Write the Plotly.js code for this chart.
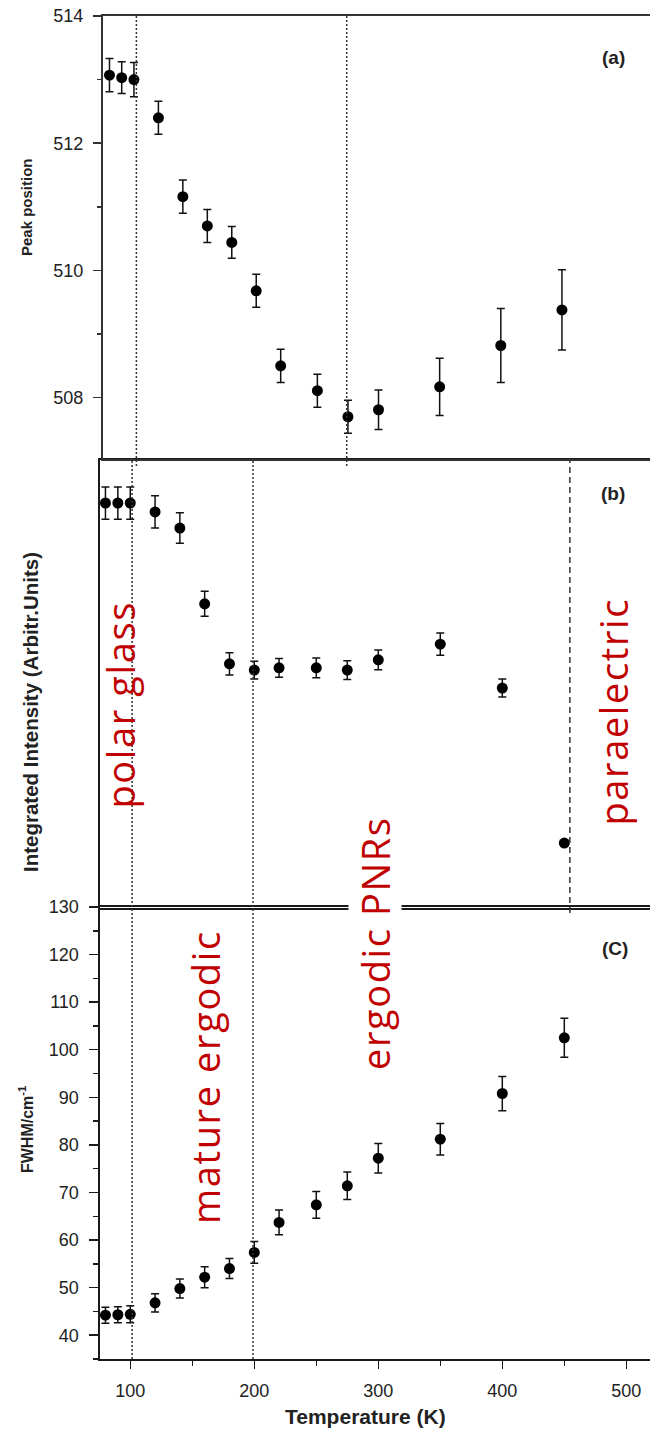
<!DOCTYPE html>
<html>
<head>
<meta charset="utf-8">
<script src="https://cdn.plot.ly/plotly-3.0.1.min.js"></script>
<style>
html,body{margin:0;padding:0;background:#fff;}
#chart{width:650px;height:1432px;}
</style>
</head>
<body>
<div id="chart"></div>
<script>
// ---- data ----
const temperature = [80, 90, 100, 120, 140, 160, 180, 200, 220, 250, 275, 300, 350, 400, 450];

const peakPosition    = [513.07, 513.03, 513.00, 512.40, 511.16, 510.70, 510.44, 509.68, 508.50, 508.11, 507.70, 507.81, 508.17, 508.82, 509.38];
const peakPositionErr = [0.26, 0.25, 0.27, 0.26, 0.26, 0.26, 0.25, 0.26, 0.26, 0.26, 0.26, 0.31, 0.45, 0.58, 0.63];

const intensity    = [90.4, 90.4, 90.4, 88.4, 84.8, 67.9, 54.5, 53.1, 53.6, 53.6, 53.1, 55.4, 58.9, 49.1, 14.5];
const intensityErr = [3.6, 3.6, 3.6, 3.6, 3.4, 2.8, 2.5, 2.0, 2.1, 2.2, 2.1, 2.2, 2.5, 2.0, 0];

const fwhm    = [44.2, 44.3, 44.4, 46.8, 49.8, 52.2, 54.0, 57.4, 63.7, 67.4, 71.4, 77.2, 81.2, 90.8, 102.5];
const fwhmErr = [1.7, 1.7, 1.8, 1.9, 2.0, 2.2, 2.1, 2.3, 2.6, 2.8, 2.9, 3.1, 3.3, 3.6, 4.1];

const peakTicks = [508, 510, 512, 514];
const fwhmTicks = [40, 50, 60, 70, 80, 90, 100, 110, 120, 130];
const tempTicks = [100, 200, 300, 400, 500];

// phase-boundary temperatures
const linesPanelA  = [102, 274];
const linesPanelBC = [101.5, 199];
const paraelectricLine = 454.5;

const phaseLabels = ["polar glass", "mature ergodic", "ergodic PNRs", "paraelectric"];
const panelLabels = ["(a)", "(b)", "(C)"];

// ---- layout helpers (pixel -> paper) ----
const W = 650, H = 1432;
const px = v => v / W;
const py = v => 1 - v / H;

const tickFont = {family: "Liberation Sans, Arial, sans-serif", size: 18, color: "#222"};
const lineCol = "#1a1a1a";

function scatter(y, err, xa, ya) {
  return {
    x: temperature, y: y, xaxis: xa, yaxis: ya,
    type: "scatter", mode: "markers", cliponaxis: false,
    marker: {size: 11, color: "#000"},
    error_y: {type: "data", array: err, visible: true, color: "#111", thickness: 1.5, width: 4},
    hoverinfo: "skip", showlegend: false
  };
}

const data = [
  scatter(fwhm, fwhmErr, "x", "y"),
  scatter(intensity, intensityErr, "x2", "y2"),
  scatter(peakPosition, peakPositionErr, "x3", "y3")
];

const shapes = [];
linesPanelA.forEach(t => shapes.push({
  type: "line", xref: "x3", yref: "paper", x0: t, x1: t, y0: py(466), y1: py(16),
  line: {color: "#333", width: 1.5, dash: "2px,2px"}
}));
linesPanelBC.forEach(t => shapes.push({
  type: "line", xref: "x", yref: "paper", x0: t, x1: t, y0: py(1359), y1: py(458),
  line: {color: "#333", width: 1.5, dash: "2px,2px"}
}));
shapes.push({
  type: "line", xref: "x", yref: "paper", x0: paraelectricLine, x1: paraelectricLine, y0: py(913), y1: py(458),
  line: {color: "#333", width: 1.5, dash: "6px,4px"}
});

const red = "#c00000";
const redFont = {family: "Open Sans, Noto Sans, sans-serif", size: 38, color: red};
function spaced(s) { return '<span style="letter-spacing:1.6px">' + s + '</span>'; }

const annotations = [
  {text: "<b>" + panelLabels[0] + "</b>", x: px(613), y: py(57)},
  {text: "<b>" + panelLabels[1] + "</b>", x: px(613), y: py(494)},
  {text: "<b>" + panelLabels[2] + "</b>", x: px(615), y: py(948)},
].map(a => Object.assign(a, {xref: "paper", yref: "paper", showarrow: false, xanchor: "center", yanchor: "middle",
  font: {family: "Liberation Sans, Arial, sans-serif", size: 19, color: "#222"}}));

const titles = [
  {text: "<b>Peak position</b>", x: px(27), y: py(207), size: 15},
  {text: "<b>Integrated Intensity (Arbitr.Units)</b>", x: px(30), y: py(712), size: 20.5},
  {text: "<b>FWHM/cm<sup>-1</sup></b>", x: px(26), y: py(1130), size: 16},
];
titles.forEach(t => annotations.push({
  text: t.text, x: t.x, y: t.y, xref: "paper", yref: "paper", showarrow: false, textangle: -90,
  xanchor: "center", yanchor: "middle",
  font: {family: "Liberation Sans, Arial, sans-serif", size: t.size, color: "#222"}
}));
annotations.push({
  text: "<b>Temperature (K)</b>", x: px(366), y: py(1416), xref: "paper", yref: "paper", showarrow: false,
  xanchor: "center", yanchor: "middle",
  font: {family: "Liberation Sans, Arial, sans-serif", size: 21, color: "#222"}
});

const phasePos = [[119.5, 705], [205, 1077], [375, 943], [612.5, 712]];
phaseLabels.forEach((s, i) => annotations.push({
  text: spaced(s), x: px(phasePos[i][0]), y: py(phasePos[i][1]), xref: "paper", yref: "paper",
  showarrow: false, textangle: -90, xanchor: "center", yanchor: "middle", font: redFont,
  bgcolor: i === 2 ? "rgba(255,255,255,1)" : "rgba(0,0,0,0)", borderpad: 0
}));

const commonX = {showgrid: false, zeroline: false, showline: true, linecolor: lineCol, linewidth: 2, mirror: true};

const layout = {
  width: W, height: H, margin: {l: 0, r: 0, t: 0, b: 0},
  paper_bgcolor: "#fff", plot_bgcolor: "rgba(0,0,0,0)",
  showlegend: false, hovermode: false,
  // panel (c)
  xaxis: Object.assign({}, commonX, {
    domain: [px(99.5), 1], range: [75.2, 519.1], anchor: "y",
    tickmode: "array", tickvals: tempTicks, ticktext: tempTicks.map(String),
    ticks: "outside", ticklen: 8, tickwidth: 1.5, tickcolor: lineCol, tickfont: tickFont, ticklabelstandoff: 6,
    minor: {dtick: 50, tick0: 0, ticks: "outside", ticklen: 5, tickwidth: 1.5, tickcolor: lineCol, showgrid: false}
  }),
  yaxis: {
    domain: [py(1359), py(907)], range: [35, 130], anchor: "x",
    showgrid: false, zeroline: false, showline: true, linecolor: lineCol, linewidth: 2,
    tickmode: "array", tickvals: fwhmTicks, ticktext: fwhmTicks.map(String),
    ticks: "outside", ticklen: 9, tickwidth: 1.5, tickcolor: lineCol, tickfont: tickFont, ticklabelstandoff: 6,
    minor: {dtick: 5, tick0: 0, ticks: "outside", ticklen: 5, tickwidth: 1.5, tickcolor: lineCol, showgrid: false}
  },
  // panel (b)
  xaxis2: Object.assign({}, commonX, {
    domain: [px(99.5), 1], range: [75.2, 519.1], anchor: "y2", ticks: "", showticklabels: false
  }),
  yaxis2: {
    domain: [py(908), py(460)], range: [0, 100], anchor: "x2",
    showgrid: false, zeroline: false, showline: true, linecolor: lineCol, linewidth: 2,
    ticks: "", showticklabels: false
  },
  // panel (a)
  xaxis3: Object.assign({}, commonX, {
    domain: [px(103), 1], range: [74.7, 522.0], anchor: "y3", ticks: "", showticklabels: false, linecolor: "#333"
  }),
  yaxis3: {
    domain: [py(459), py(16)], range: [507.036, 514], anchor: "x3",
    showgrid: false, zeroline: false, showline: true, linecolor: "#333", linewidth: 2,
    tickmode: "array", tickvals: peakTicks, ticktext: peakTicks.map(String),
    ticks: "outside", ticklen: 8, tickwidth: 1.5, tickcolor: "#333", tickfont: tickFont, ticklabelstandoff: 6,
    minor: {dtick: 1, tick0: 0, ticks: "outside", ticklen: 4, tickwidth: 1.5, tickcolor: "#333", showgrid: false}
  },
  shapes: shapes,
  annotations: annotations
};

Plotly.newPlot("chart", data, layout, {staticPlot: true, displayModeBar: false});
</script>
</body>
</html>
